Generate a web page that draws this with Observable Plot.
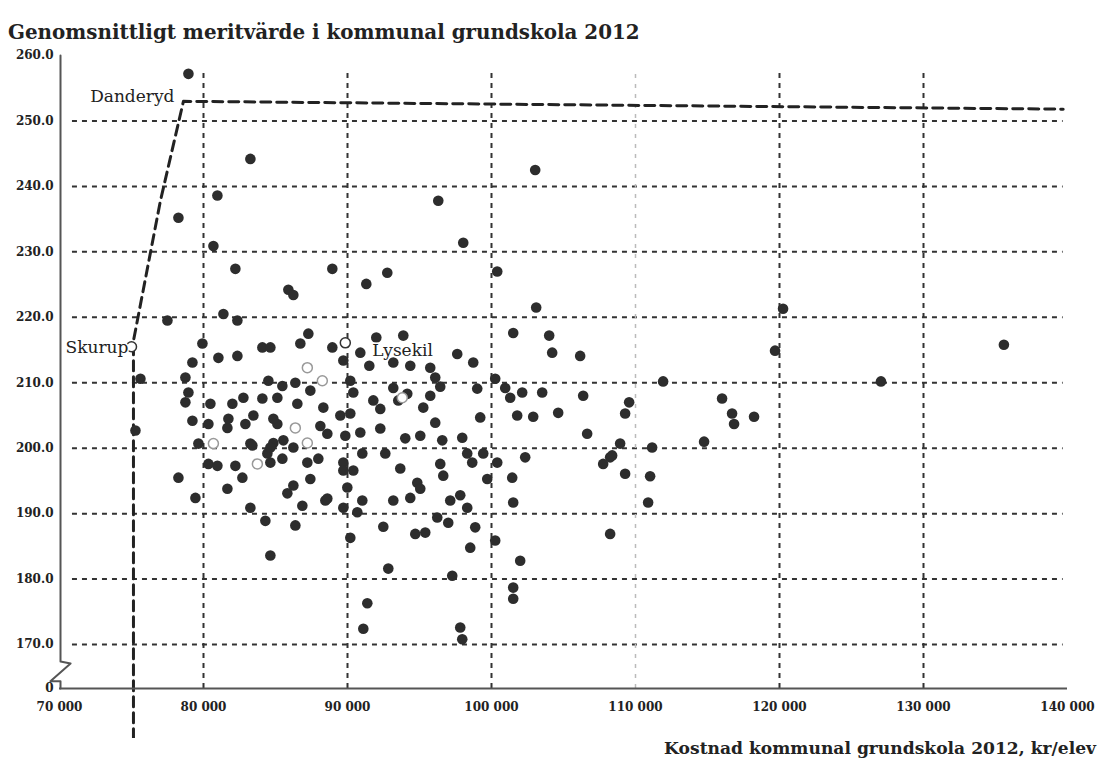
<!DOCTYPE html>
<html><head><meta charset="utf-8">
<script src="https://cdn.jsdelivr.net/npm/d3@7"></script>
<script src="https://cdn.jsdelivr.net/npm/@observablehq/plot@0.6"></script>
<style>
body{margin:0;background:#fff;font-family:"DejaVu Serif",serif;color:#222;}
#title{height:48px;box-sizing:border-box;padding:21px 0 0 8px;font-weight:bold;font-size:18px;line-height:22px;white-space:nowrap;}
#xlabel{text-align:right;font-weight:bold;font-size:16px;padding-right:2px;white-space:nowrap;}
#title span,#xlabel span{display:inline-block;}
</style></head><body>
<div id="title"><span>Genomsnittligt meritvärde i kommunal grundskola 2012</span></div>
<div id="chart"></div>
<div id="xlabel"><span>Kostnad kommunal grundskola 2012, kr/elev</span></div>
<script>
// Cost per pupil (kr/elev) and average merit value, one entry per municipality
const cost = [78953,83255,80965,78259,80688,82214,88946,85893,86240,77495,81382,82353,103034,96303,98038,92763,91306,100397,120246,119690,135583,127047,111918,109558,109280,116012,116706,116845,118233,114763,108933,111154,108239,107754,109280,111015,110877,108239,108378,103104,101508,104006,104214,106157,92000,93874,90889,97621,98732,91514,93180,94359,95747,96094,96441,90195,90404,93180,94151,93527,95262,95747,91792,92277,90195,99009,100258,100952,101299,102132,103520,106366,104631,101785,102896,106643,99217,96094,95053,94012,92277,90889,96580,97968,89710,90404,92624,93665,96441,98315,99426,100397,101438,102340,91028,94845,95053,96650,98662,99703,101508,89987,91028,89710,90681,93180,94359,97135,97829,98315,98870,96233,96997,92486,94706,95400,98523,90195,100258,101993,92833,97274,101508,101508,91375,91098,97829,97968,78259,79438,81659,82214,80341,79647,83255,82700,84435,84852,85476,86240,85823,87419,87211,88460,83255,84296,86864,86378,84643,80965,80341,81659,75274,82908,85129,83394,84643,85546,86240,88599,89848,84643,87975,89710,88599,75621,79924,79230,81035,82353,78744,78953,78744,80479,82006,79230,81729,84088,84643,87281,86725,88946,89710,84505,85476,86378,87419,85129,84088,82770,86517,88322,84852,83464,89501,88114];
const merit = [257.2,244.2,238.6,235.2,230.9,227.4,227.4,224.2,223.4,219.5,220.5,219.5,242.5,237.8,231.4,226.8,225.1,227.0,221.3,214.9,215.8,210.2,210.2,207.0,205.3,207.6,205.3,203.7,204.8,201.0,200.7,200.1,198.6,197.6,196.1,195.7,191.7,186.9,198.9,221.5,217.6,217.2,214.6,214.1,216.9,217.2,214.6,214.4,213.1,212.6,213.1,212.6,212.3,210.8,209.4,210.3,208.5,209.2,208.3,207.3,206.2,208.0,207.3,206.0,205.3,209.1,210.6,209.2,207.7,208.5,208.5,208.0,205.4,205.0,204.8,202.2,204.7,203.9,201.9,201.5,203.0,202.4,201.2,201.6,197.8,196.6,199.2,196.9,197.6,199.2,199.2,197.8,195.5,198.6,199.2,194.7,193.8,195.8,197.8,195.3,191.7,194.0,192.0,190.9,190.2,192.0,192.4,192.0,192.8,190.9,187.9,189.4,188.6,188.0,186.9,187.1,184.8,186.3,185.9,182.8,181.6,180.5,178.7,177.0,176.3,172.4,172.6,170.8,195.5,192.4,193.8,197.3,197.6,200.7,200.7,195.5,199.2,200.8,198.4,194.3,193.1,195.3,197.8,192.0,190.9,188.9,191.2,188.2,183.6,197.3,203.7,203.1,202.7,203.7,203.7,200.4,200.1,201.2,200.1,202.2,201.9,197.8,198.4,196.6,192.3,210.6,216.0,213.1,213.8,214.1,210.8,208.5,207.0,206.8,206.8,204.2,204.5,215.4,215.4,217.5,216.0,215.4,213.4,210.3,209.5,210.0,208.8,207.7,207.6,207.7,206.8,206.2,204.5,205.0,205.0,203.4];

// Municipalities drawn as open rings
const ringCost = [75000,89848,87211,88252,80688,83741,86378,87211,93804];
const ringMerit = [215.5,216.1,212.3,210.3,200.7,197.6,203.1,200.8,207.7];
const ringTone = ["dark","dark","light","light","light","light","light","light","light"];

// Named municipalities
const labelNames = ["Danderyd","Skurup","Lysekil"];
const labelCost = [77981,74789,91722];
const labelMerit = [253.7,215.4,214.9];
const labelAnchor = ["end","end","start"];

// Hand-drawn frontier line (Skurup – Danderyd)
const frontierCost = [75136,75136,77009,78606,139700];
const frontierMerit = [155.6,216.4,237.8,253.0,251.8];

// Axes
const yTicks = [163.28,170,180,190,200,210,220,230,240,250,260];
const yTickLabels = ["0","170.0","180.0","190.0","200.0","210.0","220.0","230.0","240.0","250.0","260.0"];
const xTicks = [70000,80000,90000,100000,110000,120000,130000,140000];
const xTickLabels = ["70 000","80 000","90 000","100 000","110 000","120 000","130 000","140 000"];
const gridY = [170,180,190,200,210,220,230,240,250];
const gridX = [80000,90000,100000,120000,130000];
const gridXFaint = [110000];

// y axis with break symbol
const yAxisCost = [70000,70000,70700,69300,70000,70000];
const yAxisMerit = [260,167.4,167.1,164.4,164.4,163.28];

const idx = cost.map((_, i) => i);
const lab = labelNames.map((_, i) => i);
const labelMark = anchor => Plot.text(lab.filter(i => labelAnchor[i] === anchor), {
  x: i => labelCost[i], y: i => labelMerit[i], text: i => labelNames[i],
  textAnchor: anchor, fontSize: 17, fill: "#222", stroke: "white", strokeWidth: 3, paintOrder: "stroke"});

const chart = Plot.plot({
  width: 1098, height: 690,
  marginLeft: 59, marginRight: 31, marginTop: 7, marginBottom: 50,
  x: {domain: [70000, 140000]},
  y: {domain: [163.28, 260]},
  style: {fontFamily: "DejaVu Serif", background: "white", color: "#222"},
  marks: [
    Plot.ruleY(gridY, {x1: 70900, x2: 139700, stroke: "#333", strokeWidth: 2, strokeDasharray: "5,5"}),
    Plot.ruleX(gridX, {y1: 163.28, y2: 258, stroke: "#333", strokeWidth: 2, strokeDasharray: "5,5"}),
    Plot.ruleX(gridXFaint, {y1: 163.28, y2: 258, stroke: "#bbb", strokeWidth: 1.5, strokeDasharray: "4,6"}),
    Plot.line(frontierCost.map((c, i) => i), {x: i => frontierCost[i], y: i => frontierMerit[i], stroke: "#222", strokeWidth: 3, strokeDasharray: "10,6"}),
    Plot.line(yAxisCost.map((c, i) => i), {x: i => yAxisCost[i], y: i => yAxisMerit[i], stroke: "#555", strokeWidth: 2, dx: 1}),
    Plot.ruleY([163.28], {x1: 70000, x2: 140000, stroke: "#555", strokeWidth: 2}),
    Plot.dot(idx, {x: i => cost[i], y: i => merit[i], r: 5.3, fill: "#2d2d2d"}),
    Plot.dot(ringCost.map((c, i) => i), {x: i => ringCost[i], y: i => ringMerit[i], r: 5, fill: "white",
      stroke: i => ringTone[i] === "dark" ? "#333" : "#999", strokeWidth: 1.5}),
    labelMark("end"),
    labelMark("start"),
    Plot.axisY(yTicks, {tickSize: 0, tickPadding: 6, tickFormat: d => yTickLabels[yTicks.indexOf(d)], fontWeight: "bold", fontSize: 12, fill: "#222"}),
    Plot.axisX(xTicks, {tickSize: 0, tickPadding: 14, tickFormat: d => xTickLabels[xTicks.indexOf(d)], fontWeight: "bold", fontSize: 12, fill: "#222"})
  ]
});
document.getElementById("chart").appendChild(chart);

function fit(sel, target) {
  const s = document.querySelector(sel);
  const fs = parseFloat(getComputedStyle(s).fontSize);
  const w = s.getBoundingClientRect().width;
  s.style.fontSize = (fs * target / w) + "px";
}
fit("#title span", 632);
fit("#xlabel span", 432);
</script>
</body></html>
